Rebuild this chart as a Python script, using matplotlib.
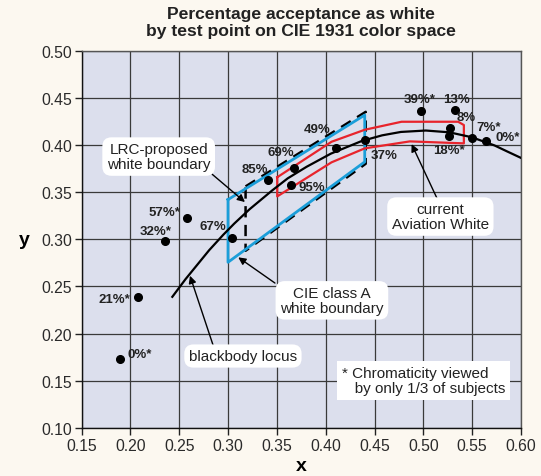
import matplotlib
matplotlib.use("Agg")
import matplotlib.pyplot as plt

plt.rcParams['font.family'] = ['Liberation Sans', 'DejaVu Sans']

# ---- data ----
pt_x = [0.189, 0.208, 0.236, 0.258, 0.304, 0.341, 0.3675, 0.365, 0.411, 0.440,
        0.498, 0.532, 0.527, 0.5265, 0.550, 0.564]
pt_y = [0.173, 0.239, 0.298, 0.3225, 0.301, 0.363, 0.376, 0.3577, 0.3963, 0.405,
        0.4355, 0.4369, 0.4178, 0.409, 0.4069, 0.4037]
pt_lbl = ["0%*", "21%*", "32%*", "57%*", "67%", "85%", "69%", "95%", "49%", "37%",
          "39%*", "13%", "8%", "18%*", "7%*", "0%*"]

bb_x = [0.243, 0.2565, 0.2807, 0.2952, 0.3064, 0.3221, 0.3451, 0.3611, 0.3805,
        0.4053, 0.4369, 0.4578, 0.4770, 0.5025, 0.5267, 0.5496, 0.5729, 0.5857, 0.601]
bb_y = [0.239, 0.2577, 0.2884, 0.3048, 0.3166, 0.3318, 0.3516, 0.3645, 0.3768,
        0.3907, 0.4041, 0.4101, 0.4137, 0.4152, 0.4133, 0.4081, 0.3994, 0.3931, 0.3857]

cie_x = [0.300, 0.440, 0.440, 0.300, 0.300]
cie_y = [0.342, 0.4316, 0.382, 0.2756, 0.342]

lrc_x = [0.318, 0.441, 0.441, 0.318, 0.318]
lrc_y = [0.356, 0.435, 0.380, 0.2878, 0.356]

av_x = [0.3504, 0.406, 0.440, 0.4777, 0.5357, 0.5415, 0.5415, 0.4862, 0.440, 0.406, 0.3504, 0.3504]
av_y = [0.3657, 0.4033, 0.416, 0.4245, 0.4245, 0.421, 0.4016, 0.4037, 0.3963, 0.3815, 0.3454, 0.3657]

x_ticks = [0.15, 0.20, 0.25, 0.30, 0.35, 0.40, 0.45, 0.50, 0.55, 0.60]
y_ticks = [0.10, 0.15, 0.20, 0.25, 0.30, 0.35, 0.40, 0.45, 0.50]

# ---- layout (label offsets in pixels: dx, dy, ha) ----
lbl_off = [(8, 5, 'left'), (-8, -2, 'right'), (-10, 10, 'center'), (-7, 6, 'right'),
           (-6, 12, 'right'), (0, 11, 'right'), (0, 16, 'right'), (7, -2, 'left'),
           (-6, 19, 'right'), (6, -15, 'left'), (-2, 12, 'center'), (2, 11, 'center'),
           (7, 11, 'left'), (0, -14, 'center'), (4, 11, 'left'), (10, 4, 'left')]

W, H = 541, 477
fig = plt.figure(figsize=(W / 100, H / 100), dpi=100, facecolor='#fcf8f0')
ax = fig.add_axes([81.5 / W, 1 - 429 / H, (521 - 81.5) / W, (429 - 51.5) / H])
ax.set_facecolor('#dcdfed')
ax.set_xlim(0.15, 0.60)
ax.set_ylim(0.10, 0.50)
ax.set_xticks(x_ticks)
ax.set_yticks(y_ticks)
ax.set_xticklabels([f"{v:.2f}" for v in x_ticks], fontsize=11.3)
ax.set_yticklabels([f"{v:.2f}" for v in y_ticks], fontsize=11.3)
ax.tick_params(direction='out', length=5, width=1, color='#222222', labelcolor='#2a2a2a', pad=2)
ax.grid(True, color='#3a3a3a', lw=0.9)
ax.set_axisbelow(True)
for s in ['left', 'bottom']:
    ax.spines[s].set_color('#111111')
    ax.spines[s].set_linewidth(1.0)
for s in ['top', 'right']:
    ax.spines[s].set_color('#555555')
    ax.spines[s].set_linewidth(1.0)

ax.set_xlabel('x', fontsize=14, fontweight='bold', labelpad=3)
ax.set_ylabel('y', fontsize=14, fontweight='bold', rotation=0, labelpad=12, va='center')

# shapes
ax.plot(cie_x, cie_y, color='#1b9ed9', lw=2.0, zorder=3)
ax.plot(lrc_x, lrc_y, color='black', lw=1.8, ls=(0, (4.5, 3)), zorder=2)
ax.plot(av_x, av_y, color='#e8242c', lw=1.6, zorder=3)
ax.plot(bb_x, bb_y, color='black', lw=1.6, zorder=4)

# points and labels
ax.plot(pt_x, pt_y, 'o', color='black', ms=5.5, zorder=5)
for x, y, t, (dx, dy, ha) in zip(pt_x, pt_y, pt_lbl, lbl_off):
    ax.annotate(t, (x, y), xytext=(dx * 0.72, dy * 0.72), textcoords='offset points',
                ha=ha, va='center', fontsize=9.5, fontweight='bold', color='#222222', zorder=6)

box = dict(boxstyle='round,pad=0.3,rounding_size=0.6', fc='white', ec='none')
arrow = dict(arrowstyle='-|>', color='black', lw=1.0, mutation_scale=11, shrinkA=0, shrinkB=0)

def px2d(px, py):
    return 0.15 + (px - 81.5) / 977.0, 0.10 + (429 - py) / 944.0

def callout(text, center, start, head):
    ax.annotate('', xy=px2d(*head), xytext=px2d(*start), arrowprops=arrow, zorder=6)
    ax.text(*px2d(*center), text, ha='center', va='center', fontsize=11,
            color='#222222', bbox=box, zorder=7, linespacing=1.12)

callout('LRC-proposed\nwhite boundary', (158.7, 157.5), (212, 175), (245, 203))
callout('current\nAviation White', (440.5, 217.5), (437, 199), (411.7, 145))
callout('CIE class A\nwhite boundary', (332, 301.3), (275, 284), (238.3, 258.3))
callout('blackbody locus', (243, 357), (213.3, 346.7), (190, 276.7))

ax.text(*px2d(342, 381.7), '* Chromaticity viewed\n   by only 1/3 of subjects', ha='left', va='center',
        fontsize=11, color='#222222', linespacing=1.12,
        bbox=dict(boxstyle='square,pad=0.3', fc='white', ec='none'), zorder=7)

fig.text(301 / W, 1 - 23 / H, 'Percentage acceptance as white\nby test point on CIE 1931 color space',
         ha='center', va='center', fontsize=12.6, fontweight='bold', color='#222222', linespacing=1.1)

fig.savefig('out.png', dpi=100, facecolor=fig.get_facecolor())
